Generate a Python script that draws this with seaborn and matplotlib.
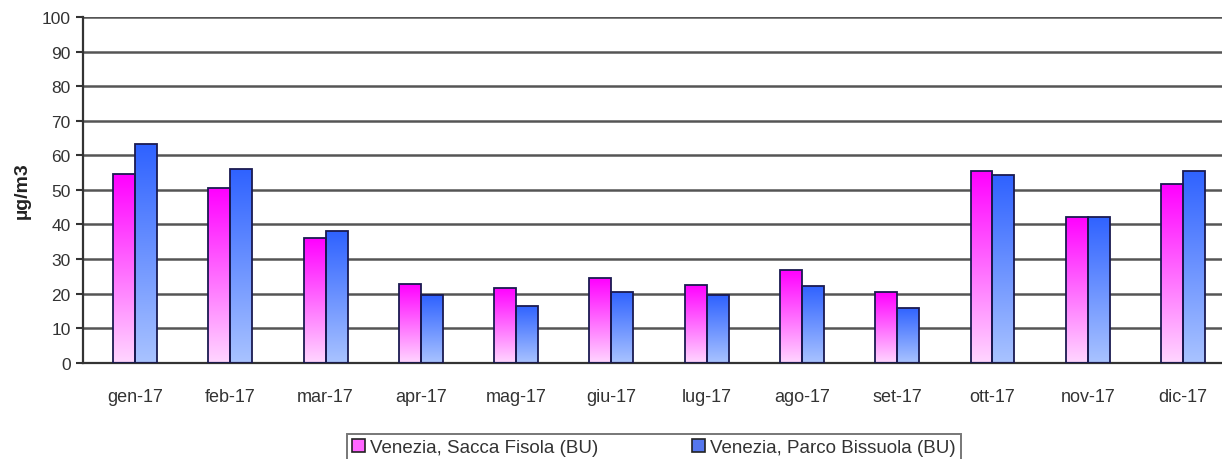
import numpy as np
import pandas as pd
import seaborn as sns
import matplotlib.pyplot as plt
from matplotlib.colors import LinearSegmentedColormap
from matplotlib.patches import Patch

months = ["gen-17", "feb-17", "mar-17", "apr-17", "mag-17", "giu-17",
          "lug-17", "ago-17", "set-17", "ott-17", "nov-17", "dic-17"]
sacca_fisola = [54.6, 50.5, 36.0, 22.8, 21.7, 24.5, 22.6, 26.7, 20.4, 55.6, 42.3, 51.7]
parco_bissuola = [63.3, 56.0, 38.0, 19.5, 16.5, 20.6, 19.6, 22.3, 15.9, 54.3, 42.3, 55.6]
series_names = ["Venezia, Sacca Fisola (BU)", "Venezia, Parco Bissuola (BU)"]
y_ticks = [0, 10, 20, 30, 40, 50, 60, 70, 80, 90, 100]

df = pd.DataFrame({
    "month": months * 2,
    "value": sacca_fisola + parco_bissuola,
    "station": [series_names[0]] * 12 + [series_names[1]] * 12,
})

# top colour -> bottom colour for each series
gradients = [("#ff00ff", "#ffd6ff"), ("#2f62ff", "#a9c3ff")]
solid = ["#ff66ff", "#5577ee"]

sns.set_style("white")
plt.rcParams["font.family"] = ["Liberation Sans", "DejaVu Sans"]

fig = plt.figure(figsize=(12.22, 4.6), dpi=100)
ax = fig.add_axes([0.068, 0.209, 0.932, 0.752])

sns.barplot(data=df, x="month", y="value", hue="station", hue_order=series_names,
            palette=solid, width=0.46, edgecolor="#1a1a50", linewidth=1.3,
            legend=False, ax=ax, zorder=3)

# gradient fill, clipped to each bar
for cont, (top, bottom) in zip(ax.containers, gradients):
    cmap = LinearSegmentedColormap.from_list("g", [bottom, top])
    grad = np.linspace(0, 1, 256).reshape(-1, 1)
    for bar in cont:
        x0, y0 = bar.get_x(), bar.get_y()
        w, h = bar.get_width(), bar.get_height()
        bar.set_facecolor("none")
        im = ax.imshow(grad, cmap=cmap, origin="lower", aspect="auto",
                       extent=[x0, x0 + w, y0, y0 + h], zorder=2.5)
        im.set_clip_path(bar)
ax.set_aspect("auto")
ax.set_xlim(-0.546, 11.41)
ax.set_ylim(0, 100)

ax.set_yticks(y_ticks)
for y in y_ticks[1:]:
    ax.axhline(y, color="#555555", lw=1.8, zorder=1)

ax.set_xticks(range(len(months)))
ax.set_xticklabels(months)
ax.set_xticks(np.arange(0.5, len(months) - 0.5, 1), minor=True)
ax.tick_params(axis="x", which="major", length=0, pad=18, labelsize=13, labelcolor="#333333")
ax.tick_params(axis="x", which="minor", length=4, width=1.5, color="#333333", direction="out")
ax.tick_params(axis="y", length=5, width=1.5, color="#333333", labelsize=12.5,
               labelcolor="#333333", pad=4, left=True)

for side in ["top", "right"]:
    ax.spines[side].set_visible(False)
for side in ["left", "bottom"]:
    ax.spines[side].set_color("#333333")
    ax.spines[side].set_linewidth(1.6)

ax.set_xlabel("")
ax.set_ylabel("µg/m3", fontsize=14, fontweight="bold", color="#222222", labelpad=8)

handles = [Patch(facecolor=solid[i], edgecolor="#222222", lw=1.2) for i in range(2)]
leg = fig.legend(handles, series_names, loc="upper center", bbox_to_anchor=(0.535, 0.055),
                 ncol=2, frameon=True, fancybox=False, fontsize=13.5, handlelength=0.7,
                 handleheight=0.7, handletextpad=0.25, columnspacing=5.0, borderpad=0.3,
                 borderaxespad=0, edgecolor="#555555")
leg.get_frame().set_linewidth(1.4)
for t in leg.get_texts():
    t.set_color("#333333")

fig.savefig("out.png", dpi=100)
